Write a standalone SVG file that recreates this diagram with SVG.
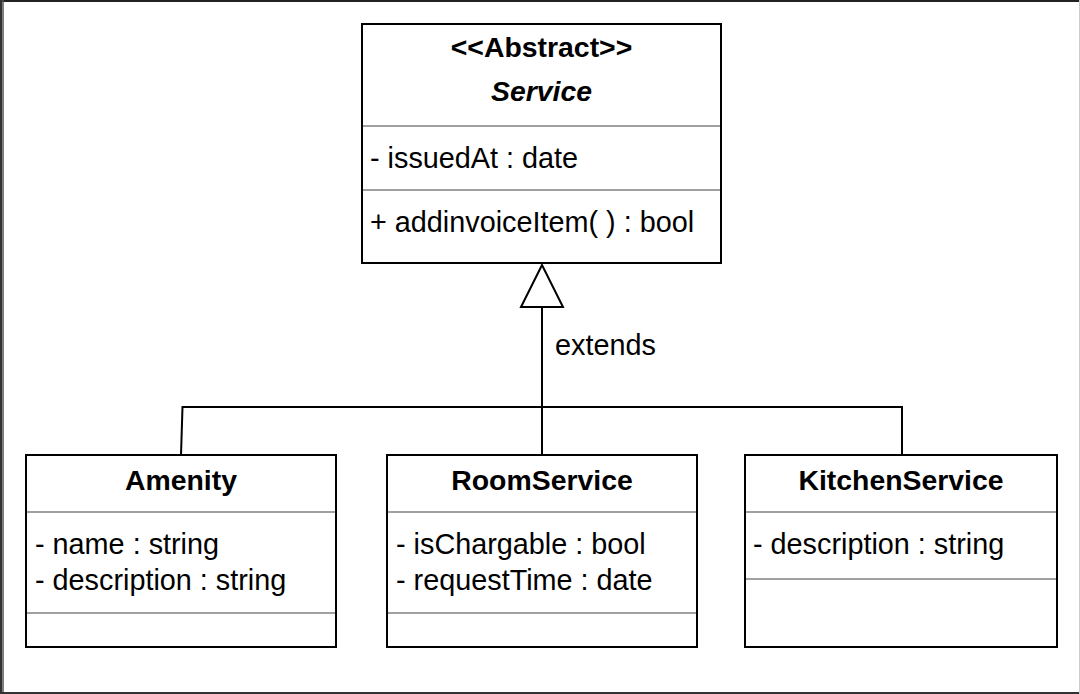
<svg xmlns="http://www.w3.org/2000/svg" width="1080" height="694" viewBox="0 0 1080 694">
<style>
.box{fill:#fff;stroke:#000;stroke-width:2}
.div{stroke:#a0a0a0;stroke-width:2}
.t{font-family:"Liberation Sans",Arial,Helvetica,sans-serif;font-size:28.8px;fill:#000}
.title{font-weight:bold;text-anchor:middle;font-size:28.4px}
.edge{fill:none;stroke:#000;stroke-width:2}
</style>
<rect x="0" y="0" width="1080" height="694" fill="#fff"/>
<g id="frame">
<line x1="0" y1="1" x2="1080" y2="1" stroke="#222" stroke-width="2"/>
<line x1="1" y1="0" x2="1" y2="694" stroke="#333" stroke-width="2"/>
<line x1="3" y1="0" x2="3" y2="694" stroke="#555" stroke-width="1.5"/>
<line x1="0" y1="693" x2="1080" y2="693" stroke="#333" stroke-width="2"/>
<line x1="1079.5" y1="0" x2="1079.5" y2="694" stroke="#ccc" stroke-width="1"/>
</g>
<g id="connectors">
<polyline class="edge" points="542,455 542,307"/>
<polygon points="542,265 521,307 563,307" fill="#fff" stroke="#000" stroke-width="2"/>
<polyline class="edge" points="181,455 182.5,407 902,407 902,455"/>
<text class="t" x="555" y="355">extends</text>
</g>
<g id="service">
<rect class="box" x="362" y="24" width="359" height="239"/>
<line class="div" x1="363" y1="126" x2="720" y2="126"/>
<line class="div" x1="363" y1="190" x2="720" y2="190"/>
<text class="t title" x="541.5" y="57">&lt;&lt;Abstract&gt;&gt;</text>
<text class="t title" x="541.5" y="101" font-style="italic">Service</text>
<text class="t" x="370" y="168">- issuedAt : date</text>
<text class="t" x="370" y="232">+ addinvoiceItem( ) : bool</text>
</g>
<g id="amenity">
<rect class="box" x="26" y="455" width="310" height="192"/>
<line class="div" x1="27" y1="512" x2="335" y2="512"/>
<line class="div" x1="27" y1="613" x2="335" y2="613"/>
<text class="t title" x="181" y="490">Amenity</text>
<text class="t" x="35" y="554">- name : string</text>
<text class="t" x="35" y="590">- description : string</text>
</g>
<g id="roomservice">
<rect class="box" x="387" y="455" width="310" height="192"/>
<line class="div" x1="388" y1="512" x2="696" y2="512"/>
<line class="div" x1="388" y1="613" x2="696" y2="613"/>
<text class="t title" x="542" y="490">RoomService</text>
<text class="t" x="396" y="554">- isChargable : bool</text>
<text class="t" x="396" y="590">- requestTime : date</text>
</g>
<g id="kitchenservice">
<rect class="box" x="745" y="455" width="312" height="192"/>
<line class="div" x1="746" y1="512" x2="1056" y2="512"/>
<line class="div" x1="746" y1="579" x2="1056" y2="579"/>
<text class="t title" x="901" y="490">KitchenService</text>
<text class="t" x="753" y="554">- description : string</text>
</g>
</svg>
